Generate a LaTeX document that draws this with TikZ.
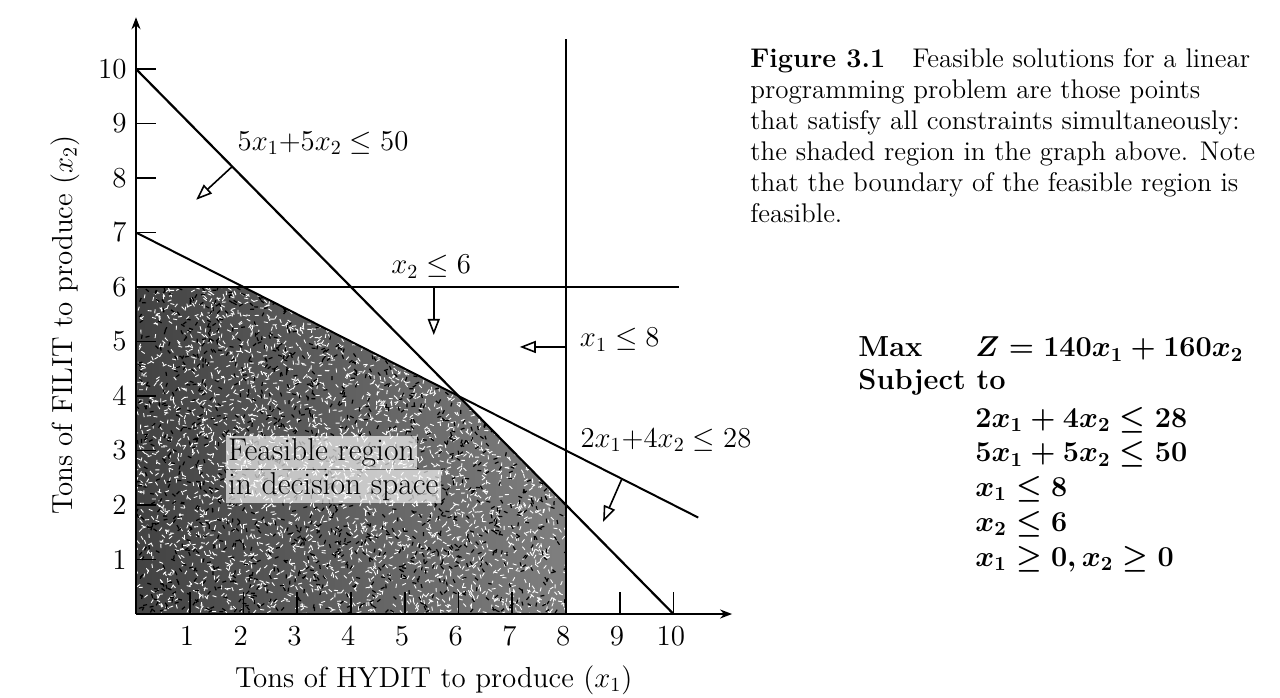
\documentclass[tikz,border=0pt]{standalone}
\usetikzlibrary{arrows.meta}
\begin{document}
\begin{tikzpicture}[x=0.5pt,y=0.5pt,
  gfont/.style={font=\fontsize{14.5}{17.5}\selectfont},
  cline/.style={line width=1.1pt},
  axisline/.style={line width=1pt,-{Stealth[length=6pt,width=4.5pt]}},
  tick/.style={line width=0.8pt},
  farrow/.style={line width=0.8pt,-{Triangle[open,length=8pt,width=6pt,fill=white]}},
  mathtxt/.style={anchor=base west,inner sep=0pt,font=\fontsize{14.5}{17}\selectfont\bfseries\boldmath},
  halo/.style={font=\fontsize{15.8}{18}\selectfont,anchor=west,inner sep=1.2pt,fill=white,fill opacity=0.65,text opacity=1},
]
\useasboundingbox (0,0) rectangle (1280,697);
\fill[white] (0,0) rectangle (1280,697);

\begin{scope}[shift={(68pt,41.5pt)},x=26.875pt,y=27.25pt]
  % feasible region with noisy texture
  \begin{scope}
    \clip (0,0) -- (0,6) -- (2,6) -- (6,4) -- (8,2) -- (8,0) -- cycle;
    \shade[left color=black!74,right color=black!50] (0,0) rectangle (8,6);
    \pgfmathsetseed{7}
    \foreach \i in {1,...,3600}{
      \pgfmathsetmacro\px{rnd*8.2}
      \pgfmathsetmacro\py{rnd*6.2}
      \pgfmathsetmacro\an{rnd*360}
      \draw[white,line width=0.45pt] (\px,\py) -- ++(\an:2pt);
    }
    \foreach \i in {1,...,1600}{
      \pgfmathsetmacro\px{rnd*8.2}
      \pgfmathsetmacro\py{rnd*6.2}
      \pgfmathsetmacro\an{rnd*360}
      \draw[black,line width=0.6pt] (\px,\py) -- ++(\an:2pt);
    }
  \end{scope}

  % axes
  \coordinate (O) at (0,0);
  \coordinate (ytop) at (0,10.95);
  \coordinate (xend) at (11.09,0);
  \draw[axisline] (O) -- (ytop);
  \draw[axisline] (O) -- (xend);

  % ticks and tick labels
  \foreach \k in {1,...,10}{
    \draw[tick] (0,\k) -- (0.38,\k);
    \node[gfont,anchor=east,inner sep=0pt] (yl\k) at (-0.17,\k) {\k};
  }
  \foreach \k in {1,2,3,4,5,6,7,9,10}{
    \draw[tick] (\k,0) -- (\k,0.4);
  }
  \foreach \k in {1,...,10}{
    \node[gfont,inner sep=0pt] (xl\k) at (\k-0.05,-0.4) {\k};
  }

  % constraint lines
  \coordinate (a1) at (0,10); \coordinate (a2) at (10,0);
  \coordinate (b1) at (0,7); \coordinate (b2) at (10.46,1.77);
  \coordinate (c1) at (0,6); \coordinate (c2) at (10.1,6);
  \coordinate (d1) at (8,0); \coordinate (d2) at (8,10.55);
  \draw[cline] (a1) -- (a2);
  \draw[line width=1pt] (b1) -- (b2);
  \draw[cline] (c1) -- (c2);
  \draw[cline] (d1) -- (d2);

  % direction arrows
  \coordinate (p1) at (1.79,8.21); \coordinate (q1) at (1.12,7.6);
  \coordinate (p2) at (5.54,6); \coordinate (q2) at (5.54,5.12);
  \coordinate (p3) at (8,4.9); \coordinate (q3) at (7.14,4.9);
  \coordinate (p4) at (9.04,2.48); \coordinate (q4) at (8.69,1.69);
  \draw[farrow] (p1) -- (q1);
  \draw[farrow] (p2) -- (q2);
  \draw[farrow] (p3) -- (q3);
  \draw[farrow] (p4) -- (q4);

  % constraint labels
  \node[gfont,inner sep=0pt] (l1) at (3.48,8.64) {$5x_1{+}5x_2 \le 50$};
  \node[gfont,inner sep=0pt] (l2) at (5.49,6.37) {$x_2 \le 6$};
  \node[gfont,inner sep=0pt] (l3) at (9.0,5.03) {$x_1 \le 8$};
  \node[gfont,inner sep=0pt] (l4) at (9.86,3.19) {$2x_1{+}4x_2 \le 28$};

  % feasible region label
  \node[halo] (feas1) at (1.66,2.96) {Feasible region};
  \node[halo] (feas2) at (1.66,2.34) {in decision space};

  % axis titles
  \node[gfont,inner sep=0pt] (xt) at (5.54,-1.21) {Tons of HYDIT to produce ($x_1$)};
  \node[gfont,inner sep=0pt,rotate=90] (yt) at (-1.32,5.3) {Tons of FILIT to produce ($x_2$)};
\end{scope}

% caption
\node[anchor=north west,align=left,inner sep=0pt,font=\fontsize{13.5}{15.5}\selectfont] (cap) at (750,649)
 {\textbf{Figure 3.1}\quad Feasible solutions for a linear\\
  programming problem are those points\\
  that satisfy all constraints simultaneously:\\
  the shaded region in the graph above. Note\\
  that the boundary of the feasible region is\\
  feasible.};

% model
\node[mathtxt] (max) at (858,340) {Max};
\node[mathtxt] (obj) at (975,340) {$Z = 140x_1 + 160x_2$};
\node[mathtxt] (st) at (858,307) {Subject to};
\node[mathtxt] (c1) at (975,270) {$2x_1 + 4x_2 \le 28$};
\node[mathtxt] (c2) at (975,235) {$5x_1 + 5x_2 \le 50$};
\node[mathtxt] (c3) at (975,201) {$x_1 \le 8$};
\node[mathtxt] (c4) at (975,166) {$x_2 \le 6$};
\node[mathtxt] (c5) at (975,131) {$x_1 \ge 0, x_2 \ge 0$};
\end{tikzpicture}
\end{document}
